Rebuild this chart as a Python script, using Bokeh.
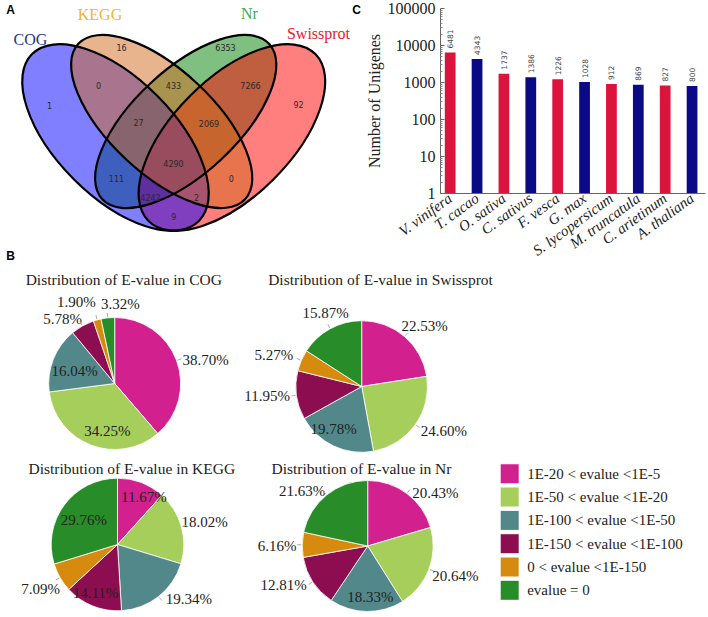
import numpy as np
from bokeh.plotting import figure
from bokeh.layouts import column, row
from bokeh.models import Range1d, FixedTicker, NumeralTickFormatter, CustomJSTickFormatter
from bokeh.core.properties import value
from bokeh.embed import file_html
from bokeh.resources import INLINE

# ---------------- data ----------------
venn_sets = ["COG", "KEGG", "Nr", "Swissprot"]
venn_counts = [1, 16, 6353, 92, 0, 433, 7266, 27, 2069, 4290, 111, 0, 4242, 2, 9]

species = ["V. vinifera", "T. cacao", "O. sativa", "C. sativus", "F. vesca", "G. max",
           "S. lycopersicum", "M. truncatula", "C. arietinum", "A. thaliana"]
unigenes = [6481, 4343, 1737, 1386, 1226, 1028, 912, 869, 827, 800]
y_ticks = [1, 10, 100, 1000, 10000, 100000]

evalue_classes = ["1E-20 < evalue <1E-5", "1E-50 < evalue <1E-20", "1E-100 < evalue <1E-50",
                  "1E-150 < evalue <1E-100", "0 < evalue <1E-150", "evalue = 0"]
cog_pct = [38.70, 34.25, 16.04, 5.78, 1.90, 3.32]
swissprot_pct = [22.53, 24.60, 19.78, 11.95, 5.27, 15.87]
kegg_pct = [11.67, 18.02, 19.34, 14.11, 7.09, 29.76]
nr_pct = [20.43, 20.64, 18.33, 12.81, 6.16, 21.63]

# ---------------- styles / layout ----------------
SERIF = "Liberation Serif"
SANS = "DejaVu Sans"
BOLD = "Liberation Sans"

# ellipse geometry per set (COG, KEGG, Nr, Swissprot): cx, cy (page px, y down), width, height, tilt (deg, ccw)
venn_geom = [(115, 137, 236, 118, -45), (161.2, 121, 228, 104, -43),
             (185.2, 121, 228, 104, 43), (231.4, 137, 236, 118, 45)]
venn_fill = ["#0000ff", "#d2691e", "#008000", "#ff0000"]
venn_draw_order = [2, 3, 0, 1]
venn_title_pos = [(30, 38.7), (99.5, 14.2), (249, 12.5), (318, 33)]
venn_title_col = ["#27338c", "#f2b431", "#3caa5c", "#e3222c"]
venn_count_pos = [(49, 104.5), (121, 46.7), (225, 46.7), (298, 104.3), (98, 85), (173, 85),
                  (250, 85), (138, 122), (208.5, 123), (173, 163), (116, 178.3), (230.7, 178.3),
                  (150, 196.7), (196, 196.7), (173.3, 215.5)]

ev_colors = ["#d3208f", "#a6ce5a", "#52888a", "#8c0e50", "#d68a0e", "#288c28"]
bar_colors = ["#dc143c" if i % 2 == 0 else "#0a0a86" for i in range(len(species))]

TOP_H = 270
A_W = 362
PAGE_W, PAGE_H = 708, 617

# ---------------- Panel A: Venn ----------------
pA = figure(width=A_W, height=TOP_H, x_range=Range1d(0, A_W), y_range=Range1d(-TOP_H, 0),
            x_axis_type=None, y_axis_type=None, output_backend="svg", toolbar_location=None,
            min_border=0)
pA.frame_align = False
pA.outline_line_color = None
for k in venn_draw_order:
    cx, cy, w, h, ang = venn_geom[k]
    pA.ellipse(x=[cx], y=[-cy], width=[w], height=[h], angle=[np.deg2rad(ang)],
               fill_color=venn_fill[k], fill_alpha=0.5, line_color=None)
for (cx, cy, w, h, ang) in venn_geom:
    pA.ellipse(x=[cx], y=[-cy], width=[w], height=[h], angle=[np.deg2rad(ang)],
               fill_color=None, line_color="black", line_width=2.2)
pA.text(x=[p[0] for p in venn_count_pos], y=[-p[1] for p in venn_count_pos],
        text=[str(c) for c in venn_counts], text_font=value(SANS), text_font_size="8px",
        text_color="#2a2a2a", text_align="center", text_baseline="middle")
pA.text(x=[p[0] for p in venn_title_pos], y=[-p[1] for p in venn_title_pos], text=venn_sets,
        text_color=venn_title_col, text_font=value(SERIF), text_font_size="16px",
        text_align="center", text_baseline="middle")
pA.text(x=[10, 10, 356], y=[-9, -255, -9], text=["A", "B", "C"], text_font=value(BOLD),
        text_font_style="bold", text_font_size="12px", text_color="black",
        text_align="center", text_baseline="middle")

# ---------------- Panel C: bar chart ----------------
xs = list(range(len(species)))
pC = figure(width=PAGE_W - A_W, height=TOP_H, x_range=Range1d(-0.36, 9.5), y_range=Range1d(1, 100000),
            y_axis_type="log", output_backend="svg", toolbar_location=None,
            min_border_left=66, min_border_right=3, min_border_top=8, min_border_bottom=77)
pC.frame_align = False
pC.outline_line_color = None
pC.grid.visible = False
pC.vbar(x=xs, top=unigenes, bottom=1, width=0.4, fill_color=bar_colors, line_color=None)
pC.text(x=xs, y=unigenes, text=[str(v) for v in unigenes], angle=np.pi / 2, text_align="left",
        text_baseline="middle", y_offset=-4, text_font=value(SANS), text_font_size="7.5px",
        text_color="#444444")
pC.xaxis.ticker = FixedTicker(ticks=xs)
pC.xaxis.formatter = CustomJSTickFormatter(args=dict(names=species),
                                           code="return names[Math.round(tick)] || '';")
pC.xaxis.major_label_orientation = np.deg2rad(36)
pC.xaxis.major_label_text_font = SERIF
pC.xaxis.major_label_text_font_style = "italic"
pC.xaxis.major_label_text_font_size = "15px"
pC.xaxis.major_label_text_color = "#222222"
pC.xaxis.major_tick_line_color = None
pC.xaxis.minor_tick_line_color = None
pC.xaxis.major_tick_out = 0
pC.xaxis.major_tick_in = 0
pC.xaxis.minor_tick_out = 0
pC.xaxis.minor_tick_in = 0
pC.xaxis.axis_line_color = "#666666"
pC.xaxis.major_label_standoff = 3
minor = [k * 10 ** d for d in range(5) for k in range(2, 10)]
pC.yaxis.ticker = FixedTicker(ticks=y_ticks, minor_ticks=minor)
pC.yaxis.formatter = NumeralTickFormatter(format="0")
pC.yaxis.major_tick_in = 4
pC.yaxis.major_tick_out = 0
pC.yaxis.minor_tick_in = 2
pC.yaxis.minor_tick_out = 0
pC.yaxis.axis_line_color = "#666666"
pC.yaxis.major_tick_line_color = "#666666"
pC.yaxis.minor_tick_line_color = "#888888"
pC.yaxis.major_label_text_font = SERIF
pC.yaxis.major_label_text_font_size = "16px"
pC.yaxis.major_label_text_color = "#222222"
pC.yaxis.major_label_standoff = 5
pC.yaxis.axis_label = "Number of Unigenes"
pC.yaxis.axis_label_text_font = SERIF
pC.yaxis.axis_label_text_font_style = "normal"
pC.yaxis.axis_label_text_font_size = "16px"
pC.yaxis.axis_label_text_color = "#222222"
pC.yaxis.axis_label_standoff = 2

# ---------------- Panel B: pies ----------------
pB = figure(width=PAGE_W, height=PAGE_H - TOP_H, x_range=Range1d(0, PAGE_W),
            y_range=Range1d(-PAGE_H, -TOP_H),
            x_axis_type=None, y_axis_type=None, output_backend="svg", toolbar_location=None,
            min_border=0)
pB.frame_align = False
pB.outline_line_color = None

pies = [
    ("Distribution of E-value in COG", cog_pct, (114.2, 383), 66, (123.3, 279.3),
     [94, 48.3, 41.8, 83.1, 89.9, 80.2], [5.7, -12.3, -4.8, -9.7, -9.9, 10.1]),
    ("Distribution of E-value in Swissprot", swissprot_pct, (361.2, 386), 65.8, (380, 279.3),
     [87.1, 93.5, 50.8, 95, 93.5, 81.8], [5.8, -6.9, 8.4, 1.7, -3.4, 2.3]),
    ("Distribution of E-value in KEGG", kegg_pct, (117, 544), 66.3, (131.3, 468.3),
     [54.1, 90, 89.6, 53.4, 88.8, 41.4], [8.1, 0.8, -14.4, 2.4, -0.1, -0.9]),
    ("Distribution of E-value in Nr", nr_pct, (367.2, 545.5), 65.5, (361, 468.3),
     [85.9, 92.6, 50.6, 92.7, 90.5, 85.4], [15.3, -2.1, -4, 8.3, -1.3, -11.2]),
]

for title, pct, (cx, cy), r, (tx, ty), dist, nudge in pies:
    v = np.array(pct, dtype=float)
    cum = np.cumsum(v)
    f0 = (cum - v) / v.sum()
    f1 = cum / v.sum()
    start = np.pi / 2 - 2 * np.pi * f0
    end = np.pi / 2 - 2 * np.pi * f1
    pB.wedge(x=cx, y=-cy, radius=r, start_angle=start, end_angle=end, direction="clock",
             fill_color=ev_colors, line_color="white", line_width=0.8)
    mid = 2 * np.pi * (f0 + f1) / 2
    th = mid + np.deg2rad(np.array(nudge))
    d = np.array(dist)
    lx = cx + d * np.sin(th)
    ly = -cy + d * np.cos(th)
    pB.text(x=lx, y=ly, text=[f"{p:.2f}%" for p in pct], text_font=value(SERIF),
            text_font_size="15px", text_color="#222222", text_align="center", text_baseline="middle")
    out = d > r + 5
    x0 = cx + (r + 1) * np.sin(mid[out]); y0 = -cy + (r + 1) * np.cos(mid[out])
    x1 = cx + (r + 5) * np.sin(mid[out]); y1 = -cy + (r + 5) * np.cos(mid[out])
    pB.segment(x0=x0, y0=y0, x1=x1, y1=y1, line_color="#aaaaaa", line_width=1)
    pB.text(x=[tx], y=[-ty], text=[title], text_font=value(SERIF), text_font_size="15.5px",
            text_color="#222222", text_align="center", text_baseline="middle")

leg_y = [-(473.3 + i * 23.3) for i in range(len(evalue_classes))]
pB.rect(x=[509.2] * len(leg_y), y=leg_y, width=18, height=19, fill_color=ev_colors, line_color=None)
pB.text(x=[526.7] * len(leg_y), y=leg_y, text=evalue_classes, text_font=value(SERIF),
        text_font_size="15px", text_color="#222222", text_align="left", text_baseline="middle")

layout = column(row(pA, pC), pB)
open("out.html", "w").write(file_html(layout, INLINE))
